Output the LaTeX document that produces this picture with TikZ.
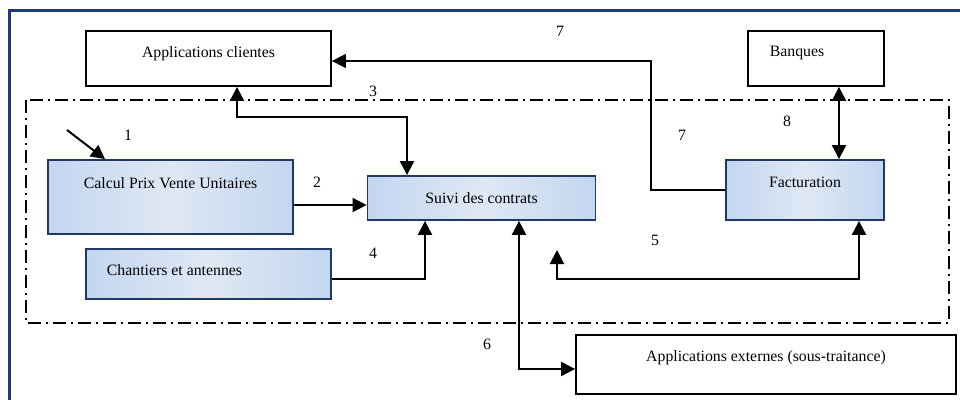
\documentclass[tikz,border=0pt]{standalone}
\usepackage{fontspec}
\setmainfont{Liberation Serif}
\usetikzlibrary{arrows.meta}

\definecolor{cadre}{HTML}{1F3A78}
\definecolor{bordbleu}{HTML}{1F3864}
\definecolor{bleuclair}{HTML}{C3D6F0}
\definecolor{bleupale}{HTML}{DFE8F4}

\tikzset{
  boite/.style={draw,line width=1.8pt,inner sep=0pt},
  module/.style={draw=bordbleu,line width=1.8pt,inner sep=0pt,left color=bleuclair,right color=bleuclair,middle color=bleupale},
  flux/.style={line width=2pt,-{Triangle[length=14pt,width=14pt]}},
  dflux/.style={line width=2pt,{Triangle[length=14pt,width=14pt]}-{Triangle[length=14pt,width=14pt]}},
  num/.style={inner sep=0pt}
}

\begin{document}
\begin{tikzpicture}[x=1pt,y=-1pt,font=\fontsize{15.8}{19}\selectfont]
\useasboundingbox (0,0) rectangle (960,399);

% cadre et zone du systeme
\draw[cadre,line width=3pt] (9,402) -- (9,10) -- (963,10);
\draw[line width=1.6pt,dash pattern=on 13pt off 5pt on 2pt off 5pt] (26,100) rectangle (949,323);

% applications autour
\node[boite,minimum width=245,minimum height=55,label={[yshift=5pt]center:Applications clientes}] (appcli) at (208.5,58.5) {};
\node[boite,minimum width=136,minimum height=55,label={[xshift=-19pt,yshift=5pt]center:Banques}] (banques) at (816,58.5) {};
\node[boite,minimum width=380,minimum height=59,label={[yshift=7pt]center:Applications externes (sous-traitance)}] (appext) at (766,364.5) {};

% modules internes
\node[module,minimum width=245,minimum height=74,label={[yshift=14pt]center:Calcul Prix Vente Unitaires}] (calcul) at (170.5,197) {};
\node[module,minimum width=228,minimum height=44] (suivi) at (481.5,198) {Suivi des contrats};
\node[module,minimum width=245,minimum height=50,label={[xshift=-34pt,yshift=4pt]center:Chantiers et antennes}] (chantiers) at (208.5,274) {};
\node[module,minimum width=158,minimum height=60,label={[yshift=8pt]center:Facturation}] (factur) at (805,190) {};

\coordinate (e1) at (67,130);
\coordinate (e5) at (557,250);

% flux
\draw[flux] (e1) -- ([xshift=-65.5pt]calcul.north);
\draw[flux] ([yshift=-8pt]calcul.east) -- ([yshift=-8pt]calcul.east -| suivi.west);
\draw[dflux] ([xshift=28.5pt]appcli.south) -- ++(0,30) -| ([xshift=-74.5pt]suivi.north);
\draw[flux] ([yshift=-5pt]chantiers.east) -| ([xshift=-56.5pt]suivi.south);
\draw[dflux] (e5) -- ++(0,29) -| ([xshift=54pt]factur.south);
\draw[dflux] ([xshift=37.5pt]suivi.south) |- ([yshift=-4.5pt]appext.west);
\draw[flux,line width=1.6pt] (factur.west) -- ++(-74,0) |- ([yshift=-2.5pt]appcli.east);
\draw[dflux] ([xshift=23pt]banques.south) -- ([xshift=34pt]factur.north);

% numeros des flux
\node[num] (n1) at (128,135) {1};
\node[num] (n2) at (317,182) {2};
\node[num] (n3) at (373,91) {3};
\node[num] (n4) at (373,253) {4};
\node[num] (n5) at (655,240) {5};
\node[num] (n6) at (487,344) {6};
\node[num] (n7a) at (560,31) {7};
\node[num] (n7b) at (682,135) {7};
\node[num] (n8) at (787,121) {8};
\end{tikzpicture}
\end{document}
